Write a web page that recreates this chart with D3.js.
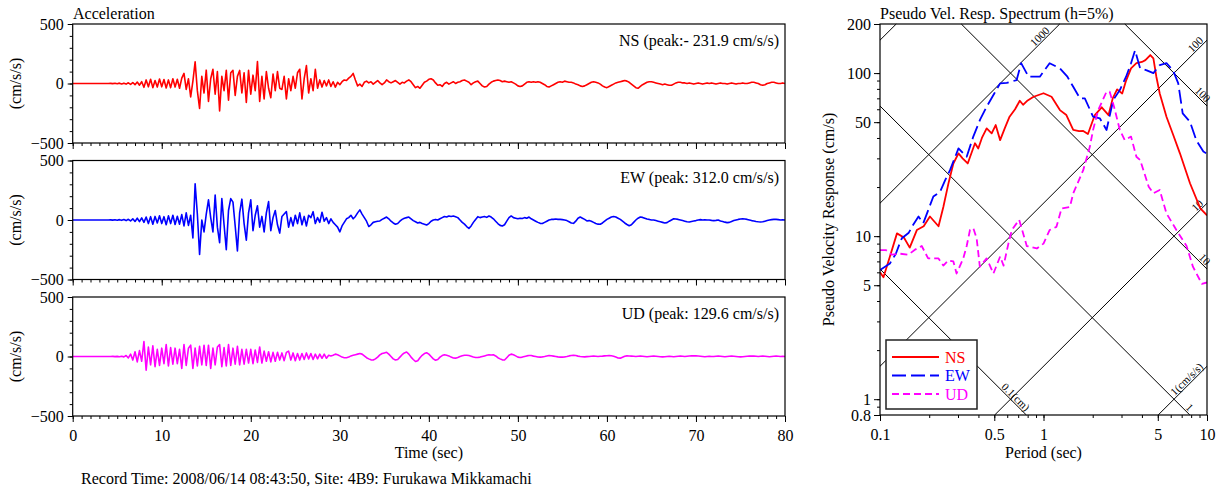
<!DOCTYPE html>
<html><head><meta charset="utf-8">
<script src="https://cdn.jsdelivr.net/npm/d3@7"></script>
<style>
body{margin:0;background:#fff;}
svg{display:block;font-family:"Liberation Serif","Times New Roman",serif;}
</style>
</head><body>
<svg id="c" width="1223" height="490"></svg>
<script>
// ---------- DATA ----------
const timeStep = 0.25; // seconds between samples
const nsAccel = [
0,0,0,0,0,0,0,0, 0,0,0,0,0,0,0,0, 0,1,-1,2,-2,3,-4,3, -5,6,-7,8,-10,12,-14,15,
-32,30,-28,36,-35,25,-30,38, -28,34,-38,30,-35,40,-30,36, -40,45,85,-50,40,-113,20,182,
-60,-210,60,-80,112,-150,40,120, -90,100,-230,60,-60,110,-140,90, 110,-100,60,110,-80,90,-160,110,
-90,70,-60,185,-150,60,-130,100, -40,-120,80,-60,100,-40,-50,60, -130,40,-60,60,-40,90,120,-130,
40,150,-80,40,-60,120,-40,30, -30,25,-20,30,-25,15,-30,10, -10,15,30,25,45,60,85,30,
-20,-5,-25,10,20,5,15,-5, 10,25,5,-10,5,30,15,5, 15,25,10,-5,10,5,20,30,
15,-10,-35,-25,-40,-15,10,20, 35,40,30,5,-15,-10,-25,0, 10,-5,5,15,0,10,15,25,
30,20,10,-10,5,15,20,0, -20,-30,-25,-5,10,20,25,30, 25,15,20,15,10,15,5,-5,
-20,-25,-20,-5,10,15,10,15, 10,15,10,0,-10,-25,-30,-20, -10,0,10,15,10,20,15,10,
10,5,-5,-10,-20,-25,-20,-10, 0,10,15,10,5,-5,-20,-30, -35,-25,-15,-5,5,10,15,20,
25,20,10,-5,-20,-35,-40,-25, -10,0,10,15,15,10,5,0, -5,-10,-5,-10,-15,-15,-5,5,
10,10,5,5,0,5,0,-5, 0,5,0,-5,0,5,0,5, 0,-5,0,5,0,0,-5,0,
5,0,-5,0,0,5,0,0, 5,10,10,5,0,-10,-15,-10, 0,5,10,10,5,0,0,5, 0];
const ewAccel = [
0,0,0,0,0,0,0,0, 0,0,0,0,0,0,0,0, 0,1,-1,2,-2,3,-3,4, -5,6,-8,10,-12,15,-14,18,
-20,25,-30,28,-35,30,-25,35, -30,28,-40,35,-30,40,-38,32, -35,45,-50,60,-45,40,-150,305,
50,-290,0,-100,50,170,20,-100, 210,-60,-190,180,-40,-250,80,180, 150,-50,-260,60,175,-30,-170,60,
170,-90,40,120,-60,30,-100,60, 155,-90,20,80,-40,-110,30,50, 70,-60,20,-50,40,-30,60,-40,
30,-50,40,20,70,-30,20,-20, 65,-10,20,-30,10,-20,-40,-60, -100,-50,-20,10,20,40,10,30,
60,85,50,20,-10,-55,-40,-20, -15,-10,-8,5,15,25,10,-10, -25,-36,-30,-10,5,15,20,25,
10,-5,-15,-25,-20,-30,-35,-42, -30,-10,0,5,0,10,20,30, 25,34,30,34,28,20,0,-20,
-35,-55,-70,-50,-20,5,28,20, 25,30,22,34,25,10,-10,-30, -45,-50,-40,-10,20,34,20,15,
10,15,12,20,15,25,10,0, -10,-20,-28,-30,-20,-10,0,5, 5,8,5,5,3,0,-5,-15,
-25,-28,-10,15,25,15,5,-8, -5,-10,-20,-30,-35,-36,-25,-10, 5,15,25,30,25,15,5,-10,
-25,-38,-48,-40,-20,0,15,25, 22,15,8,5,0,0,-5,-10, -15,-20,-25,-22,-10,0,10,8,
5,0,-5,-10,-15,-17,-12,-8, -5,0,3,0,2,0,0,-3, -5,-3,0,-8,-12,-18,-22,-20,
-12,-5,0,5,8,10,8,5, 0,-5,-8,-12,-15,-17,-15,-10, -5,0,3,5,5,3,0,2, 0];
const udAccel = [
0,0,0,0,0,0,0,0, 0,0,0,0,0,0,0,0, 0,0,1,-1,1,-2,2,-3, 8,-12,20,-30,40,-45,50,-40,
126,-115,80,-70,90,-85,60,-75, 70,-60,100,-80,75,-65,70,-60, 60,-100,100,-75,70,95,-100,70,
-80,85,-70,95,-75,95,-100,70, -70,80,100,-85,75,-80,100,-75, 70,-65,85,-70,60,-65,60,-55,
60,-60,55,-50,80,-55,45,-40, 40,-45,35,-40,35,-30,30,-35, 35,45,-30,30,-35,25,-30,25,
-25,30,-20,25,-25,20,-20,20, -15,20,-15,10,5,10,20,15, 5,-5,-10,-10,-5,5,10,15,
20,25,20,5,-10,-20,-28,-30, -20,-5,14,25,30,35,20,0, -20,-30,-25,-5,15,30,38,20,
-5,-25,-42,-35,-10,10,25,31, 20,0,-20,-31,-25,-5,8,14, 10,5,-5,-12,-14,-8,0,6,
10,11,8,2,-4,-8,-8,-5, 0,5,10,14,12,14,5,-10, -20,-28,-30,-10,10,20,15,5,
-5,-8,-5,0,5,8,8,3, 0,-4,-5,-3,0,4,8,6, 3,0,-3,-5,-5,-3,0,5,
8,11,8,3,0,-2,-3,-1, 0,2,3,2,0,2,3,5, 6,8,6,2,-5,-12,-14,-6,
2,5,4,3,2,0,2,3, 2,0,-2,0,2,3,2,0, -2,-3,-2,0,2,0,-2,0,
2,3,2,0,2,4,5,5, 5,4,2,0,-2,0,2,0, 0,2,3,2,0,-2,0,2,
3,2,0,-2,-3,-2,0,2, 3,4,3,2,0,2,3,2, 0,-2,0,2,3,2,0,2, 0];
const compNames = ["NS","EW","UD"];
const peakLabels = ["NS (peak:- 231.9 cm/s/s)","EW (peak: 312.0 cm/s/s)","UD (peak: 129.6 cm/s/s)"];
const accTickLabels = [-500,0,500];
const timeTicks = [0,10,20,30,40,50,60,70,80];

// pseudo velocity response spectra (period sec, SV cm/s)
const nsPeriod = [0.1,0.105,0.115,0.127,0.14,0.152,0.168,0.185,0.202,0.228,0.244,0.262,0.281,0.302,0.32,0.344,0.381,0.399,0.42,0.449,0.482,0.51,0.543,0.58,0.62,0.67,0.716,0.75,0.8,0.87,1.0,1.12,1.26,1.38,1.52,1.65,1.75,1.87,2.06,2.27,2.5,2.65,2.82,3.03,3.2,3.43,3.7,4.0,4.2,4.5,4.7,4.9,5.14,5.65,6.2,6.83,7.87,9.1,10];
const nsSV = [6.0,5.6,7.5,10.4,9.8,8.5,10.9,11.5,13.2,11.5,15.1,21,27.9,32.2,30,27.9,37.1,34.5,40,45.8,42.7,48,38.8,46,54,60,67.7,63.9,68,71.6,75.2,71.6,59.3,55.3,44.8,44,44.2,42.3,55.3,61.7,55.3,70,79.5,75,90,107,115,117,120,129,123,95,75,54,42,32.2,21.1,14.8,13.4];
const ewPeriod = [0.1,0.115,0.125,0.133,0.136,0.15,0.16,0.172,0.184,0.2,0.212,0.233,0.25,0.268,0.302,0.339,0.372,0.41,0.449,0.5,0.543,0.596,0.685,0.73,0.81,0.95,1.09,1.26,1.4,1.52,1.67,1.79,2.01,2.21,2.43,2.67,2.93,3.2,3.43,3.63,3.9,4.28,4.7,5.14,5.65,6.2,6.67,7.1,7.87,8.6,9.5,10];
const ewSV = [6.2,6.8,7.8,9.2,9.7,10.5,11.8,13.2,12,15,17.5,18.7,22,25.4,34.5,30.7,40.8,52,62.2,75,86.5,87,90.6,115,95,95,115,107,95,82.4,70,70,54,52.8,44.8,68.4,78.7,95,115,138,107,104,100,112,115,104,86.5,56.6,50.3,38.8,33,32];
const udPeriod = [0.1,0.109,0.118,0.133,0.149,0.165,0.18,0.197,0.228,0.244,0.262,0.281,0.294,0.323,0.339,0.355,0.372,0.39,0.408,0.449,0.494,0.543,0.57,0.61,0.64,0.71,0.79,0.91,1.0,1.09,1.2,1.29,1.45,1.52,1.75,1.92,2.01,2.16,2.43,2.54,2.7,2.93,3.14,3.43,3.7,3.9,4.4,4.7,5.14,5.65,6.5,7.5,8.2,9.3,10];
const udSV = [8.2,8.2,7.7,7.8,7.7,8.3,8.7,7.3,7.3,6.6,7.1,7.0,5.9,7.3,8.7,10.9,11.2,9.7,6.5,7.3,5.9,7.5,6.6,9.0,10.9,12.6,8.7,8.4,9.0,10.9,11.4,14.8,15.1,18.3,25.4,35.3,44.8,59.3,76.9,76.9,62.2,44.8,38.8,40.8,30.7,29.3,20.1,18.3,19.2,13.8,10.9,8.7,6.5,5.1,5.2];
const svTickLabels = [0.8,1,5,10,50,100,200];
const periodTickLabels = [0.1,0.5,1,5,10];
const dispLevels = [0.1,1,10,100];           // cm
const dispLabels = ["0.1(cm)","1","10","100"];
const accLevels = [1,10,100,1000,10000];     // cm/s/s
const accLabels = ["1(cm/s/s)","10","100","1000",""];

// ---------- STYLE ----------
const colors = ["#ff0000","#0000ff","#ff00ff"];
const dashes = [null,"14,5","7,4"];
const FONT = 16;

const svg = d3.select("#c");
const defs = svg.append("defs");

// ---------- LEFT: acceleration time histories ----------
const xT = d3.scaleLinear().domain([0,80]).range([72.7,785]);
const panelTop = [24,160.5,297], panelH = 119;
const series = [nsAccel, ewAccel, udAccel];

function styleAxis(g){
  g.select(".domain").remove();
  g.selectAll("line").attr("stroke","#000");
  g.selectAll("text").attr("font-family",'"Liberation Serif","Times New Roman",serif').attr("font-size",FONT).attr("fill","#000");
}

series.forEach((data,i)=>{
  const top = panelTop[i], bot = top+panelH;
  const y = d3.scaleLinear().domain([-500,500]).range([bot, top]);
  const cid = "clipA"+i;
  defs.append("clipPath").attr("id",cid).append("rect")
    .attr("x",xT(0)).attr("y",top).attr("width",xT(80)-xT(0)).attr("height",panelH);
  const line = d3.line().x((d,j)=>xT(j*timeStep)).y(d=>y(d));
  svg.append("path").datum(data).attr("clip-path",`url(#${cid})`)
    .attr("d",line).attr("fill","none").attr("stroke",colors[i]).attr("stroke-width",1.6).attr("stroke-linejoin","round");
  svg.append("rect").attr("x",xT(0)).attr("y",top).attr("width",xT(80)-xT(0)).attr("height",panelH)
    .attr("fill","none").attr("stroke","#000").attr("stroke-width",1.2);
  // y axis
  svg.append("g").attr("transform",`translate(${xT(0)},0)`)
    .call(d3.axisLeft(y).tickValues(d3.range(-500,501,100)).tickSize(3).tickFormat(""))
    .call(styleAxis);
  svg.append("g").attr("transform",`translate(${xT(0)},0)`)
    .call(d3.axisLeft(y).tickValues(accTickLabels).tickSize(5).tickPadding(4).tickFormat(d3.format("d")))
    .call(styleAxis);
  // x axis
  svg.append("g").attr("transform",`translate(0,${bot})`)
    .call(d3.axisBottom(xT).tickValues(d3.range(0,81,1)).tickSize(3).tickFormat(""))
    .call(styleAxis);
  svg.append("g").attr("transform",`translate(0,${bot})`)
    .call(d3.axisBottom(xT).tickValues(timeTicks).tickSize(6).tickPadding(8).tickFormat(i===2?d3.format("d"):""))
    .call(styleAxis);
  // labels
  svg.append("text").attr("x",779).attr("y",top+22).attr("text-anchor","end").attr("font-size",FONT).text(peakLabels[i]);
  svg.append("text").attr("transform",`translate(21,${(top+bot)/2}) rotate(-90)`).attr("text-anchor","middle").attr("font-size",FONT).text("(cm/s/s)");
});
svg.append("text").attr("x",73).attr("y",19).attr("font-size",FONT).text("Acceleration");
svg.append("text").attr("x",(xT(0)+xT(80))/2).attr("y",458).attr("text-anchor","middle").attr("font-size",FONT).text("Time (sec)");
svg.append("text").attr("x",81).attr("y",484).attr("font-size",FONT).text("Record Time: 2008/06/14 08:43:50, Site: 4B9: Furukawa Mikkamachi");

// ---------- RIGHT: tripartite pseudo velocity spectrum ----------
const pL=880, pR=1207, pT=24, pB=415;
const xP = d3.scaleLog().domain([0.1,10]).range([pL,pR]);
const yP = d3.scaleLog().domain([0.8,200]).range([pB,pT]);
defs.append("clipPath").attr("id","clipP").append("rect").attr("x",pL).attr("y",pT).attr("width",pR-pL).attr("height",pB-pT);

function clipSeg(x0,y0,x1,y1){
  let t0=0,t1=1; const dx=x1-x0, dy=y1-y0;
  const p=[-dx,dx,-dy,dy], q=[x0-pL,pR-x0,y0-pT,pB-y0];
  for(let k=0;k<4;k++){
    if(p[k]===0){ if(q[k]<0) return null; }
    else { const r=q[k]/p[k];
      if(p[k]<0){ if(r>t1) return null; if(r>t0) t0=r; }
      else { if(r<t0) return null; if(r<t1) t1=r; } }
  }
  return [x0+t0*dx,y0+t0*dy,x0+t1*dx,y0+t1*dy];
}
const gridLines = [];
dispLevels.forEach((D,k)=>gridLines.push({sv:T=>2*Math.PI*D/T, label:dispLabels[k]}));
accLevels.forEach((A,k)=>gridLines.push({sv:T=>A*T/(2*Math.PI), label:accLabels[k]}));
gridLines.forEach(gl=>{
  const s = clipSeg(xP(0.1),yP(gl.sv(0.1)),xP(10),yP(gl.sv(10)));
  if(!s) return;
  svg.append("line").attr("x1",s[0]).attr("y1",s[1]).attr("x2",s[2]).attr("y2",s[3])
    .attr("stroke","#000").attr("stroke-width",1);
  if(!gl.label) return;
  const len = Math.hypot(s[2]-s[0],s[3]-s[1]);
  const ux=(s[2]-s[0])/len, uy=(s[3]-s[1])/len;
  const nx=uy, ny=-ux;
  const pb = (s[3]-pT<0.5) ? 12 : 3;
  const ax = s[2]-ux*pb+nx*1.5, ay = s[3]-uy*pb+ny*1.5;
  const ang = Math.atan2(uy,ux)*180/Math.PI;
  svg.append("text").attr("transform",`translate(${ax},${ay}) rotate(${ang})`)
    .attr("text-anchor","end").attr("font-size",11).text(gl.label);
});

const spectra = [[nsPeriod,nsSV],[ewPeriod,ewSV],[udPeriod,udSV]];
const sLine = d3.line().x(d=>xP(d[0])).y(d=>yP(d[1]));
spectra.forEach((s,i)=>{
  svg.append("path").datum(d3.zip(s[0],s[1])).attr("clip-path","url(#clipP)")
    .attr("d",sLine).attr("fill","none").attr("stroke",colors[i]).attr("stroke-width",1.8)
    .attr("stroke-dasharray",dashes[i]).attr("stroke-linejoin","round");
});
svg.append("rect").attr("x",pL).attr("y",pT).attr("width",pR-pL).attr("height",pB-pT)
  .attr("fill","none").attr("stroke","#000").attr("stroke-width",1.2);

// axes
const svMinor = [0.8,0.9,1,2,3,4,5,6,7,8,9,10,20,30,40,50,60,70,80,90,100,200];
svg.append("g").attr("transform",`translate(${pL},0)`)
  .call(d3.axisLeft(yP).tickValues(svMinor).tickSize(3).tickFormat("")).call(styleAxis);
svg.append("g").attr("transform",`translate(${pL},0)`)
  .call(d3.axisLeft(yP).tickValues(svTickLabels).tickSize(6).tickPadding(3).tickFormat(d=>String(d))).call(styleAxis);
const tMinor = [0.1,0.2,0.3,0.4,0.5,0.6,0.7,0.8,0.9,1,2,3,4,5,6,7,8,9,10];
svg.append("g").attr("transform",`translate(0,${pB})`)
  .call(d3.axisBottom(xP).tickValues(tMinor).tickSize(3).tickFormat("")).call(styleAxis);
svg.append("g").attr("transform",`translate(0,${pB})`)
  .call(d3.axisBottom(xP).tickValues(periodTickLabels).tickSize(6).tickPadding(8).tickFormat(d=>String(d))).call(styleAxis);

svg.append("text").attr("x",pL).attr("y",19).attr("font-size",FONT).text("Pseudo Vel. Resp. Spectrum (h=5%)");
svg.append("text").attr("x",(pL+pR)/2).attr("y",458).attr("text-anchor","middle").attr("font-size",FONT).text("Period (sec)");
svg.append("text").attr("transform",`translate(834,${(pT+pB)/2}) rotate(-90)`).attr("text-anchor","middle").attr("font-size",FONT).text("Pseudo Velocity Response (cm/s)");

// legend
const lg = svg.append("g");
lg.append("rect").attr("x",886).attr("y",340).attr("width",91).attr("height",69)
  .attr("fill","#fff").attr("stroke","#222").attr("stroke-width",1.5);
const legY = [357,375.5,394];
compNames.forEach((n,i)=>{
  lg.append("line").attr("x1",892).attr("x2",939).attr("y1",legY[i]).attr("y2",legY[i])
    .attr("stroke",colors[i]).attr("stroke-width",1.8).attr("stroke-dasharray",dashes[i]);
  lg.append("text").attr("x",945).attr("y",legY[i]+5.5).attr("font-size",FONT).attr("fill",colors[i]).text(n);
});
</script>
</body></html>
